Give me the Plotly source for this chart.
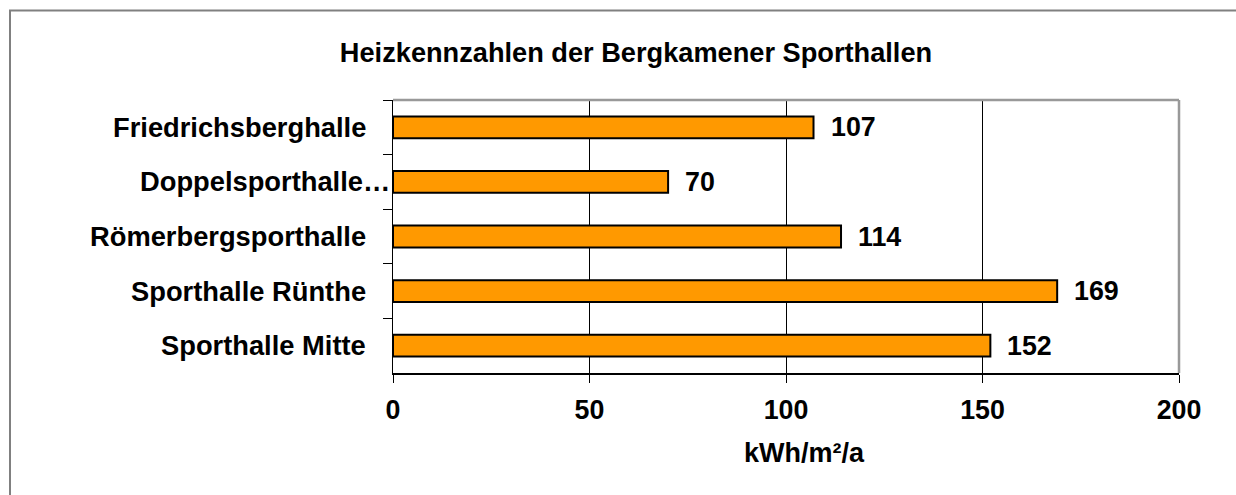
import plotly.graph_objects as go

categories = ["Friedrichsberghalle", "Doppelsporthalle…", "Römerbergsporthalle",
              "Sporthalle Rünthe", "Sporthalle Mitte"]
values = [107, 70, 114, 169, 152]
x_ticks = [0, 50, 100, 150, 200]
title_text = "Heizkennzahlen der Bergkamener Sporthallen"
x_title = "kWh/m²/a"

W, H = 1236, 495
L, R, T, B = 393, 1179, 100, 373
pw, ph = R - L, B - T

def px_x(p):
    return (p - L) / pw

def px_y(p):
    return (B - p) / ph

FONT = "Arial, 'Liberation Sans', sans-serif"

fig = go.Figure()
fig.add_trace(go.Bar(
    x=values, y=categories, orientation="h",
    marker=dict(color="#FF9900", line=dict(color="#000000", width=2)),
    hoverinfo="skip",
))

annotations = []
# value labels
for c, v in zip(categories, values):
    annotations.append(dict(
        x=v, y=c, xref="x", yref="y", text=str(v), showarrow=False,
        xanchor="left", yanchor="middle", xshift=15,
        font=dict(family=FONT, size=26.8, color="#000000", weight="bold"),
    ))
# category labels
for c in categories:
    shift = -1 if c.endswith("…") else -25
    annotations.append(dict(
        x=0, y=c, xref="paper", yref="y", text=c, showarrow=False,
        xanchor="right", yanchor="middle", xshift=shift,
        font=dict(family=FONT, size=27.3, color="#000000", weight="bold"),
    ))
# x axis title
annotations.append(dict(
    x=px_x(804), y=px_y(453), xref="paper", yref="paper", text=x_title,
    showarrow=False, xanchor="center", yanchor="middle",
    font=dict(family=FONT, size=27, color="#000000", weight="bold"),
))

shapes = [
    # outer chart border (top & left visible)
    dict(type="rect", xref="paper", yref="paper",
         x0=px_x(10), x1=px_x(1245), y0=px_y(505), y1=px_y(10.5),
         line=dict(color="#808080", width=2), layer="below"),
    # plot area top and right border
    dict(type="line", xref="paper", yref="paper", x0=0, x1=1, y0=1, y1=1,
         line=dict(color="#999999", width=2.5)),
    dict(type="line", xref="paper", yref="paper", x0=1, x1=1, y0=0, y1=1,
         line=dict(color="#999999", width=2.5)),
]

fig.update_layout(
    width=W, height=H,
    margin=dict(l=L, r=W - R, t=T, b=H - B),
    paper_bgcolor="#FFFFFF", plot_bgcolor="#FFFFFF",
    showlegend=False,
    bargap=0.6,
    title=dict(text=title_text, xref="container", yref="container",
               x=636 / W, y=1 - 52 / H, xanchor="center", yanchor="middle",
               font=dict(family=FONT, size=27.2, color="#000000", weight="bold")),
    xaxis=dict(range=[0, 200], tickvals=x_ticks, ticktext=[str(t) for t in x_ticks],
               showgrid=True, gridcolor="#000000", gridwidth=1,
               zeroline=False, showline=True, linecolor="#000000", linewidth=1.5,
               ticks="outside", ticklen=8, tickcolor="#000000", tickwidth=1,
               ticklabelstandoff=4,
               tickfont=dict(family=FONT, size=26.8, color="#000000", weight="bold"),
               fixedrange=True),
    yaxis=dict(autorange="reversed", type="category", tickson="boundaries",
               showticklabels=False, showgrid=False, zeroline=False,
               showline=True, linecolor="#000000", linewidth=1.5,
               ticks="outside", ticklen=9, tickcolor="#000000", tickwidth=1,
               fixedrange=True),
    annotations=annotations,
    shapes=shapes,
)

fig.write_html(
    "out.html",
    config={"displayModeBar": False, "staticPlot": True},
    post_script="document.body.style.margin='0';document.body.style.overflow='hidden';",
)
